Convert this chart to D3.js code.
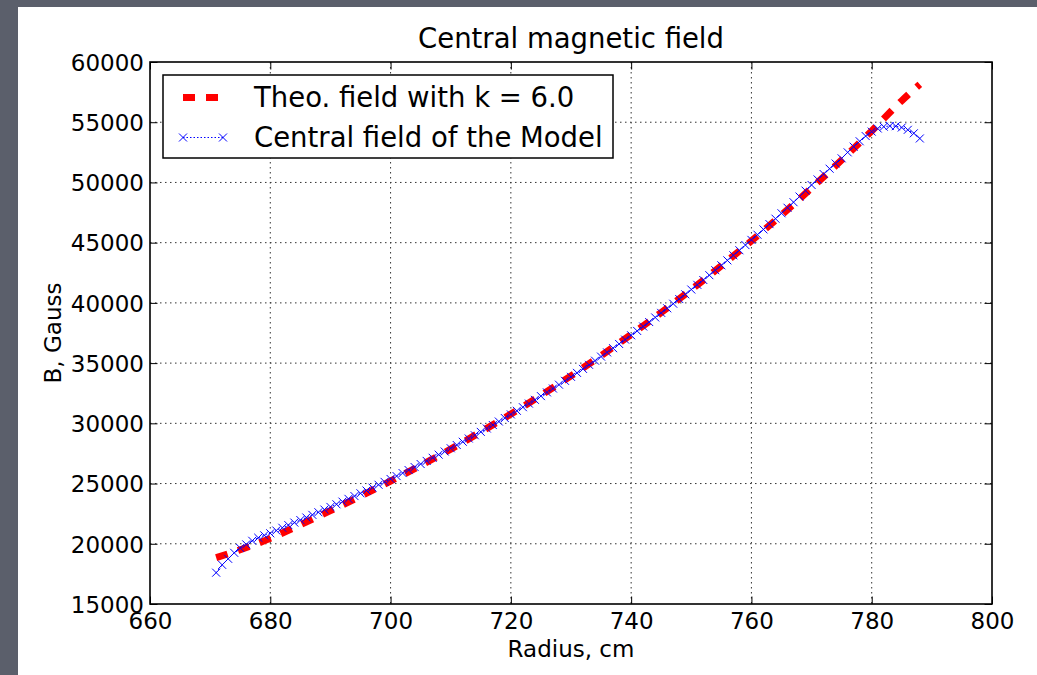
<!DOCTYPE html>
<html>
<head>
<meta charset="utf-8">
<script src="https://cdn.jsdelivr.net/npm/d3@7/dist/d3.min.js"></script>
<style>
  html, body { margin: 0; padding: 0; background: #5b5f6b; }
  svg { display: block; }
  text { font-family: "DejaVu Sans", sans-serif; fill: #000; }
</style>
</head>
<body>
<svg id="chart" width="1037" height="675"></svg>
<script>
// ---- data ----
const theoRadius = [671, 675, 680, 685, 690, 695, 700, 705, 710, 715, 720, 725, 730, 735, 740, 745, 750, 755, 760, 765, 770, 775, 780, 785, 788];
const theoField  = [18850, 19500, 20450, 21580, 22750, 23950, 25200, 26500, 27860, 29290, 30770, 32320, 33940, 35620, 37370, 39200, 41100, 43080, 45150, 47300, 49540, 51860, 54280, 56790, 58150];

const modelRadius = [671, 672, 673, 674, 675, 676, 677, 678, 679, 680,
  681, 682, 683, 684, 685, 686, 687, 688, 689, 690,
  691, 692, 693, 694, 695, 696, 697, 698, 699, 700,
  701, 702, 703, 704, 705, 706, 707, 708, 709, 710,
  711, 712, 713, 714, 715, 716, 717, 718, 719, 720,
  721, 722, 723, 724, 725, 726, 727, 728, 729, 730,
  731, 732, 733, 734, 735, 736, 737, 738, 739, 740,
  741, 742, 743, 744, 745, 746, 747, 748, 749, 750,
  751, 752, 753, 754, 755, 756, 757, 758, 759, 760,
  761, 762, 763, 764, 765, 766, 767, 768, 769, 770,
  771, 772, 773, 774, 775, 776, 777, 778, 779, 780,
  781, 782, 783, 784, 785, 786, 787, 788];
const modelField = [17600, 18250, 18750, 19250, 19650, 19950, 20250, 20500, 20700, 20870,
  21100, 21330, 21550, 21760, 21970, 22180, 22400, 22620, 22840, 23060,
  23280, 23500, 23730, 23960, 24190, 24420, 24660, 24900, 25140, 25380,
  25620, 25870, 26120, 26370, 26620, 26880, 27140, 27400, 27660, 27930,
  28200, 28470, 28740, 29010, 29290, 29570, 29860, 30150, 30440, 30740,
  31040, 31340, 31640, 31950, 32260, 32570, 32890, 33210, 33530, 33860,
  34190, 34520, 34860, 35200, 35540, 35890, 36240, 36590, 36950, 37310,
  37670, 38040, 38410, 38790, 39170, 39550, 39930, 40320, 40710, 41110,
  41500, 41900, 42300, 42710, 43120, 43530, 43950, 44370, 44800, 45230,
  45660, 46100, 46540, 46990, 47440, 47900, 48360, 48830, 49320, 49790,
  50250, 50700, 51140, 51570, 52000, 52500, 52970, 53420, 53850, 54220,
  54480, 54630, 54690, 54670, 54560, 54370, 54080, 53650];

const xTicks = [660, 680, 700, 720, 740, 760, 780, 800];
const yTicks = [15000, 20000, 25000, 30000, 35000, 40000, 45000, 50000, 55000, 60000];

const titleText = "Central magnetic field";
const xLabel = "Radius, cm";
const yLabel = "B, Gauss";
const legendLabels = ["Theo. field with k = 6.0", "Central field of the Model"];

// ---- layout ----
const svg = d3.select("#chart");
const W = 1037, H = 675;
const plot = {left: 150, top: 62, right: 992, bottom: 604};

svg.append("rect").attr("x", 0).attr("y", 0).attr("width", W).attr("height", H).attr("fill", "#5b5f6b");
svg.append("rect").attr("x", 18).attr("y", 7).attr("width", W - 18).attr("height", H - 7).attr("fill", "#ffffff");

const x = d3.scaleLinear().domain([660, 800]).range([plot.left, plot.right]);
const y = d3.scaleLinear().domain([15000, 60000]).range([plot.bottom, plot.top]);

// grid
const grid = svg.append("g");
grid.selectAll("line.vg").data(xTicks.slice(1, -1)).join("line")
  .attr("x1", d => x(d)).attr("x2", d => x(d))
  .attr("y1", plot.top).attr("y2", plot.bottom)
  .attr("stroke", "#333").attr("stroke-width", 1).attr("stroke-dasharray", "1.5,3.5");
grid.selectAll("line.hg").data(yTicks.slice(1, -1)).join("line")
  .attr("x1", plot.left).attr("x2", plot.right)
  .attr("y1", d => y(d)).attr("y2", d => y(d))
  .attr("stroke", "#333").attr("stroke-width", 1).attr("stroke-dasharray", "1.5,3.5");

// clip
svg.append("clipPath").attr("id", "clip").append("rect")
  .attr("x", plot.left).attr("y", plot.top)
  .attr("width", plot.right - plot.left).attr("height", plot.bottom - plot.top);

const data = svg.append("g").attr("clip-path", "url(#clip)");

// theoretical red dashed
const theo = theoRadius.map((r, i) => [r, theoField[i]]);
data.append("path").datum(theo)
  .attr("d", d3.line().x(d => x(d[0])).y(d => y(d[1])).curve(d3.curveMonotoneX))
  .attr("fill", "none").attr("stroke", "#ff0000").attr("stroke-width", 7)
  .attr("stroke-dasharray", "12,11");

// model blue dotted + x markers
const model = modelRadius.map((r, i) => [r, modelField[i]]);
data.append("path").datum(model)
  .attr("d", d3.line().x(d => x(d[0])).y(d => y(d[1])))
  .attr("fill", "none").attr("stroke", "#0000ff").attr("stroke-width", 1)
  .attr("stroke-dasharray", "1.5,2");
const ms = 4;
data.selectAll("path.mk").data(model).join("path")
  .attr("d", d => {
    const cx = x(d[0]), cy = y(d[1]);
    return `M${cx - ms},${cy - ms}L${cx + ms},${cy + ms}M${cx - ms},${cy + ms}L${cx + ms},${cy - ms}`;
  })
  .attr("stroke", "#0000ff").attr("stroke-width", 1).attr("fill", "none");

// axes (ticks inward on all four sides)
const tl = 7.5;
const axB = svg.append("g").attr("transform", `translate(0,${plot.bottom})`)
  .call(d3.axisBottom(x).tickValues(xTicks).tickSizeInner(-tl).tickSizeOuter(0).tickPadding(10).tickFormat(d3.format("d")));
const axT = svg.append("g").attr("transform", `translate(0,${plot.top})`)
  .call(d3.axisTop(x).tickValues(xTicks).tickSizeInner(-tl).tickSizeOuter(0).tickFormat(""));
const axL = svg.append("g").attr("transform", `translate(${plot.left},0)`)
  .call(d3.axisLeft(y).tickValues(yTicks).tickSizeInner(-tl).tickSizeOuter(0).tickPadding(6).tickFormat(d3.format("d")));
const axR = svg.append("g").attr("transform", `translate(${plot.right},0)`)
  .call(d3.axisRight(y).tickValues(yTicks).tickSizeInner(-tl).tickSizeOuter(0).tickFormat(""));
[axB, axT, axL, axR].forEach(a => {
  a.select(".domain").remove();
  a.selectAll(".tick line").attr("stroke", "#000").attr("stroke-width", 1);
  a.selectAll("text").attr("font-family", "DejaVu Sans").attr("font-size", 23).attr("fill", "#000");
});
axB.selectAll("text").attr("dy", null).attr("y", 24.5);
axL.selectAll("text").attr("dy", "0.36em").attr("x", -6);

// frame
svg.append("rect").attr("x", plot.left).attr("y", plot.top)
  .attr("width", plot.right - plot.left).attr("height", plot.bottom - plot.top)
  .attr("fill", "none").attr("stroke", "#000").attr("stroke-width", 1.6);

// title and labels
svg.append("text").attr("x", (plot.left + plot.right) / 2).attr("y", 48)
  .attr("text-anchor", "middle").attr("font-size", 27.5).text(titleText);
svg.append("text").attr("x", (plot.left + plot.right) / 2).attr("y", 657)
  .attr("text-anchor", "middle").attr("font-size", 23).text(xLabel);
svg.append("text").attr("transform", `translate(60.5,${(plot.top + plot.bottom) / 2}) rotate(-90)`)
  .attr("text-anchor", "middle").attr("font-size", 23).text(yLabel);

// legend
const lg = svg.append("g");
lg.append("rect").attr("x", 163).attr("y", 75).attr("width", 450).attr("height", 83)
  .attr("fill", "#fff").attr("stroke", "#000").attr("stroke-width", 1.5);
lg.append("line").attr("x1", 183).attr("x2", 223).attr("y1", 97.5).attr("y2", 97.5)
  .attr("stroke", "#ff0000").attr("stroke-width", 7).attr("stroke-dasharray", "12,11");
lg.append("line").attr("x1", 183).attr("x2", 223).attr("y1", 137.5).attr("y2", 137.5)
  .attr("stroke", "#0000ff").attr("stroke-width", 1).attr("stroke-dasharray", "1.5,2");
[183, 223].forEach(cx => {
  lg.append("path").attr("d", `M${cx - ms},${137.5 - ms}L${cx + ms},${137.5 + ms}M${cx - ms},${137.5 + ms}L${cx + ms},${137.5 - ms}`)
    .attr("stroke", "#0000ff").attr("stroke-width", 1);
});
lg.append("text").attr("x", 254).attr("y", 107).attr("font-size", 27.5).text(legendLabels[0]);
lg.append("text").attr("x", 254).attr("y", 146.5).attr("font-size", 27.5).text(legendLabels[1]);
</script>
</body>
</html>
